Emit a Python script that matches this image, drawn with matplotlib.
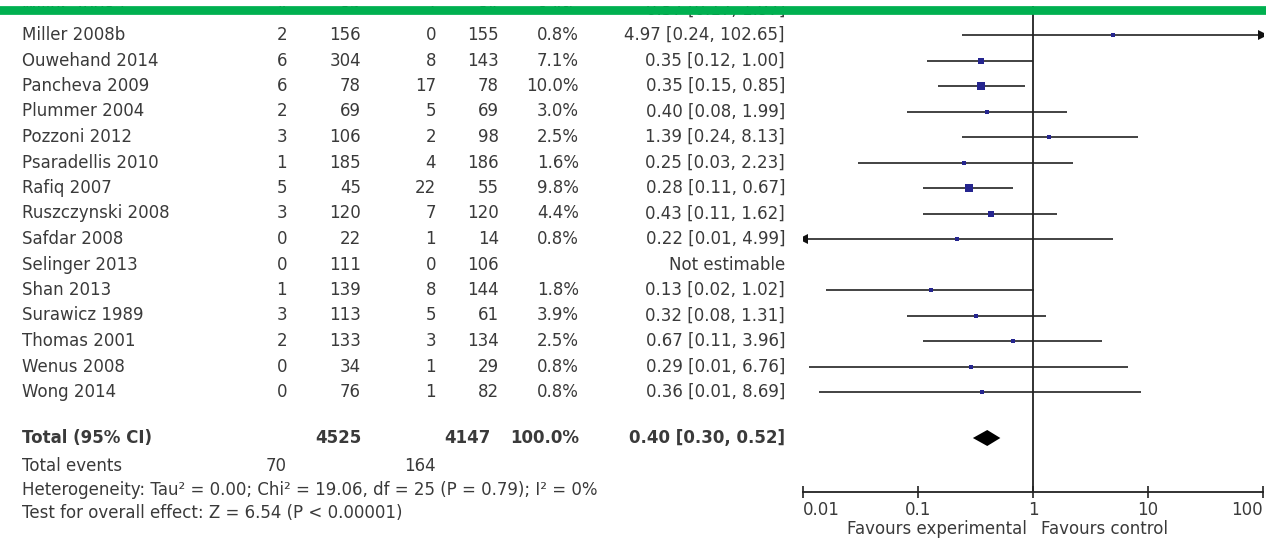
import numpy as np
import matplotlib
matplotlib.use("Agg")
import matplotlib.pyplot as plt
from matplotlib.lines import Line2D
from matplotlib.patches import Rectangle

# ---------------- data ----------------
studies = ["Miller 2008a", "Miller 2008b", "Ouwehand 2014", "Pancheva 2009", "Plummer 2004",
           "Pozzoni 2012", "Psaradellis 2010", "Rafiq 2007", "Ruszczynski 2008", "Safdar 2008",
           "Selinger 2013", "Shan 2013", "Surawicz 1989", "Thomas 2001", "Wenus 2008", "Wong 2014"]
exp_events = [4, 2, 6, 6, 2, 3, 1, 5, 3, 0, 0, 1, 3, 2, 0, 0]
exp_total = [85, 156, 304, 78, 69, 106, 185, 45, 120, 22, 111, 139, 113, 133, 34, 76]
ctl_events = [7, 0, 8, 17, 5, 2, 4, 22, 7, 1, 0, 8, 5, 3, 1, 1]
ctl_total = [84, 155, 143, 78, 69, 98, 186, 55, 120, 14, 106, 144, 61, 134, 29, 82]
weights = [3.4, 0.8, 7.1, 10.0, 3.0, 2.5, 1.6, 9.8, 4.4, 0.8, None, 1.8, 3.9, 2.5, 0.8, 0.8]
odds = [0.57, 4.97, 0.35, 0.35, 0.40, 1.39, 0.25, 0.28, 0.43, 0.22, None, 0.13, 0.32, 0.67, 0.29, 0.36]
ci_low = [0.17, 0.24, 0.12, 0.15, 0.08, 0.24, 0.03, 0.11, 0.11, 0.0097, None, 0.016, 0.08, 0.11, 0.0113, 0.0138]
ci_high = [1.97, 102.65, 1.00, 0.85, 1.99, 8.13, 2.23, 0.67, 1.62, 4.99, None, 1.02, 1.31, 3.96, 6.76, 8.69]

total_exp, total_ctl = 4525, 4147
total_events_exp, total_events_ctl = 70, 164
pooled_or, pooled_low, pooled_high = 0.40, 0.30, 0.52
heterogeneity = "Heterogeneity: Tau\u00b2 = 0.00; Chi\u00b2 = 19.06, df = 25 (P = 0.79); I\u00b2 = 0%"
overall = "Test for overall effect: Z = 6.54 (P < 0.00001)"
tick_values = [0.01, 0.1, 1, 10, 100]
tick_labels = ["0.01", "0.1", "1", "10", "100"]
favours_left, favours_right = "Favours experimental", "Favours control"

# ---------------- layout ----------------
W, H = 1266, 543
fig = plt.figure(figsize=(W / 100, H / 100), dpi=100)
plt.rcParams['font.family'] = ['DejaVu Sans']
TXT = '#3a3a3a'
FS = 12

tx = fig.add_axes([0, 0, 1, 1])
tx.set_xlim(0, W)
tx.set_ylim(H, 0)
tx.axis('off')

row0, step = 9.5, 25.5
row_y = [row0 + step * i for i in range(len(studies))]

col_name = 22
col_ee, col_et, col_ce, col_ct, col_w, col_or = 287, 361, 436, 499, 579, 785


def fmt_ci(o, lo, hi):
    return f"{o:.2f} [{lo:.2f}, {hi:.2f}]"


for i, s in enumerate(studies):
    y = row_y[i]
    kw = dict(va='center', fontsize=FS, color=TXT)
    tx.text(col_name, y, s, ha='left', **kw)
    tx.text(col_ee, y, str(exp_events[i]), ha='right', **kw)
    tx.text(col_et, y, str(exp_total[i]), ha='right', **kw)
    tx.text(col_ce, y, str(ctl_events[i]), ha='right', **kw)
    tx.text(col_ct, y, str(ctl_total[i]), ha='right', **kw)
    if weights[i] is not None:
        tx.text(col_w, y, f"{weights[i]:.1f}%", ha='right', **kw)
        tx.text(col_or, y, fmt_ci(odds[i], ci_low[i], ci_high[i]), ha='right', **kw)
    else:
        tx.text(col_or, y, "Not estimable", ha='right', **kw)

y_tot, y_ev, y_het, y_test = 438, 466, 490, 513
kb = dict(va='center', fontsize=FS, color=TXT, fontweight='bold')
tx.text(col_name, y_tot, "Total (95% CI)", ha='left', **kb)
tx.text(col_et, y_tot, str(total_exp), ha='right', **kb)
tx.text(col_ct - 8, y_tot, str(total_ctl), ha='right', **kb)
tx.text(col_w, y_tot, "100.0%", ha='right', **kb)
tx.text(col_or, y_tot, fmt_ci(pooled_or, pooled_low, pooled_high), ha='right', **kb)
kn = dict(va='center', fontsize=FS, color=TXT)
tx.text(col_name, y_ev, "Total events", ha='left', **kn)
tx.text(col_ee, y_ev, str(total_events_exp), ha='right', **kn)
tx.text(col_ce, y_ev, str(total_events_ctl), ha='right', **kn)
tx.text(col_name, y_het, heterogeneity, ha='left', **kn)
tx.text(col_name, y_test, overall, ha='left', **kn)

# ---------------- forest axes ----------------
x_left, x_right, y_axis = 803, 1263, 492
ax = fig.add_axes([x_left / W, (H - y_axis) / H, (x_right - x_left) / W, y_axis / H])
ax.set_xscale('log')
ax.set_xlim(0.01, 100)
ax.set_ylim(y_axis, 0)
for sp in ['top', 'right', 'left']:
    ax.spines[sp].set_visible(False)
ax.spines['bottom'].set_linewidth(1.3)
ax.spines['bottom'].set_color('#222222')
ax.set_yticks([])
ax.set_xticks(tick_values)
ax.set_xticklabels(tick_labels)
ax.xaxis.set_minor_locator(matplotlib.ticker.NullLocator())
ax.tick_params(axis='x', direction='inout', length=9, width=1.2, colors='#222222',
               labelsize=FS, labelcolor=TXT, pad=2)
labs = ax.get_xticklabels()
labs[0].set_ha('left')
labs[-1].set_ha('right')
ax.patch.set_alpha(0)
ax.axvline(1, color='#222222', lw=1.3, zorder=1)

lo_lim, hi_lim = 0.01, 100
for i in range(len(studies)):
    if odds[i] is None:
        continue
    y = row_y[i]
    lo = max(ci_low[i], lo_lim)
    hi = min(ci_high[i], hi_lim)
    ax.plot([lo, hi], [y, y], color='#222222', lw=1.2, zorder=2, solid_capstyle='butt')
    if ci_low[i] < lo_lim:
        ax.plot([lo_lim], [y], marker='<', color='#111111', ms=7, mew=0, zorder=3)
    if ci_high[i] > hi_lim:
        ax.plot([hi_lim], [y], marker='>', color='#111111', ms=7, mew=0, zorder=3)
    ms = max(2.6, 5.6 * np.sqrt(weights[i] / 10.0))
    ax.plot([odds[i]], [y], marker='s', color='#25258f', ms=ms, mew=0, zorder=4)

# pooled diamond
dh = 8
ax.fill([pooled_low, pooled_or, pooled_high, pooled_or],
        [y_tot, y_tot - dh, y_tot, y_tot + dh], color='black', zorder=4, lw=0)

fig.text(1027 / W, 1 - 529 / H, favours_left, ha='right', va='center', fontsize=FS, color=TXT)
fig.text(1041 / W, 1 - 529 / H, favours_right, ha='left', va='center', fontsize=FS, color=TXT)

# cropped top edge: white strip, then green band on top
fig.add_artist(Rectangle((0, 1 - 5.5 / H), 1, 5.5 / H, transform=fig.transFigure,
                         facecolor='white', edgecolor='none', zorder=99))
fig.add_artist(Line2D([0, 1], [1 - 9.5 / H, 1 - 9.5 / H], transform=fig.transFigure,
                      color='#00B050', lw=6.3, zorder=100))

fig.savefig('out.png', dpi=100)
